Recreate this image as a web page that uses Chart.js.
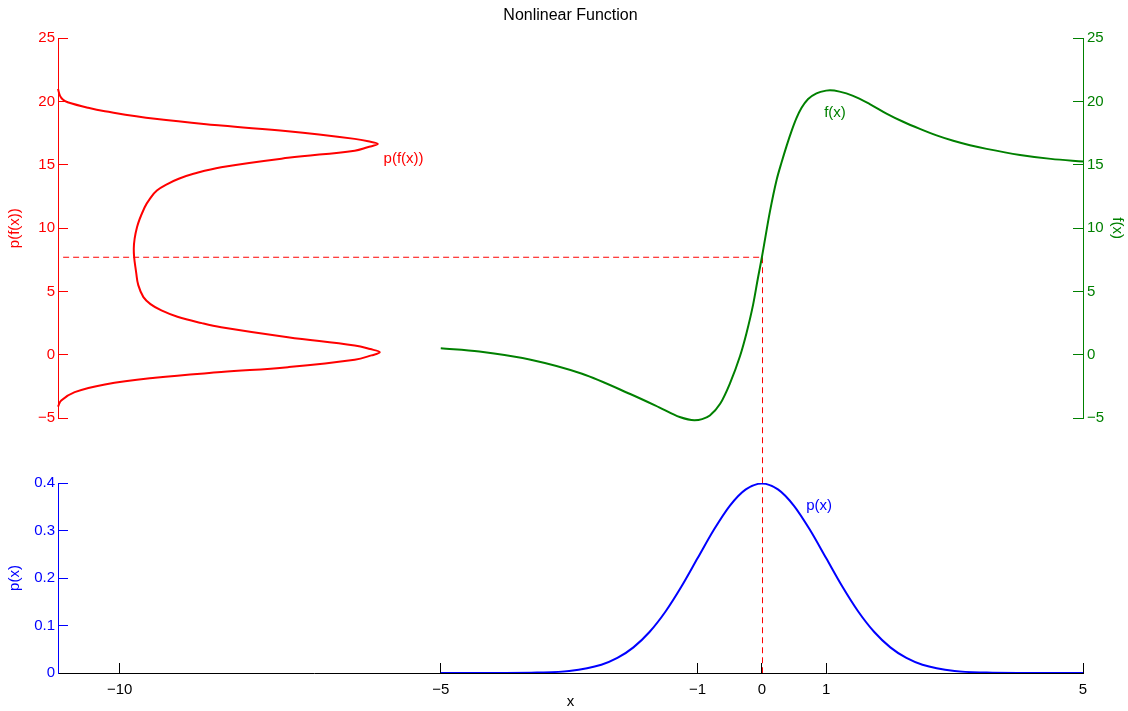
<!DOCTYPE html>
<html>
<head>
<meta charset="utf-8">
<title>Nonlinear Function</title>
<script src="https://cdn.jsdelivr.net/npm/chart.js@4.4.1/dist/chart.umd.min.js"></script>
<style>
  html, body { margin: 0; padding: 0; background: #fff; }
  #wrap { width: 1128px; height: 711px; }
</style>
</head>
<body>
<div id="wrap"><canvas id="chart" width="1128" height="711"></canvas></div>
<script>
// f(x)
const fX = [-5, -4.4, -3.6, -2.8, -2.05, -1.6, -1.28, -1.05, -0.93, -0.81, -0.65, -0.5, -0.34, -0.24, -0.135, -0.06,
  0, 0.125, 0.229, 0.307, 0.385, 0.463, 0.54, 0.618, 0.72, 0.85, 1.0, 1.06, 1.21, 1.42, 1.68, 1.94, 2.2, 2.46,
  2.72, 2.98, 3.24, 3.5, 4.02, 4.5, 5];
const fY = [0.52, 0.26, -0.39, -1.5, -3.1, -4.15, -4.92, -5.17, -5.08, -4.79, -3.87, -2.29, -0.1, 1.7, 4.0, 6.1,
  7.7, 11.3, 13.8, 15.2, 16.5, 17.68, 18.7, 19.5, 20.2, 20.65, 20.86, 20.88, 20.78, 20.45, 19.8, 19.05, 18.4, 17.84,
  17.33, 16.9, 16.55, 16.26, 15.78, 15.47, 15.26];

// p(f(x)) drawn sideways against the left edge: level of f and horizontal position
const pfLevel = [21.0, 20.47, 20.13, 19.94, 19.5, 19.23, 18.63, 18.1, 17.65, 17.05, 16.86, 16.65, 16.39, 16.12,
  15.55, 14.81, 14.29, 13.9, 13.5, 12.97, 12.31, 11.65, 10.07, 8.37, 6.39, 5.5, 4.55, 4.0, 3.5, 3.0, 2.5, 2.18,
  1.39, 0.73, 0.45, 0.2, -0.05, -0.39, -0.98, -1.37, -1.82, -2.34, -2.95, -3.61, -4.1];
const pfPos = [-10.96, -10.93, -10.88, -10.81, -10.49, -10.23, -9.45, -8.42, -7.38, -6.34, -6.13, -5.98, -6.14, -6.34,
  -7.38, -8.42, -8.85, -9.08, -9.25, -9.42, -9.53, -9.61, -9.73, -9.78, -9.74, -9.71, -9.63, -9.52, -9.35, -9.1, -8.72, -8.42,
  -7.38, -6.34, -6.1, -5.95, -6.08, -6.34, -7.38, -8.42, -9.45, -10.23, -10.7, -10.91, -10.96];

// p(x)
const pX = [-5, -4, -3.5, -3, -2.5, -2.25, -2, -1.75, -1.5, -1.25, -1, -0.75, -0.5, -0.25, 0,
  0.25, 0.5, 0.75, 1, 1.25, 1.5, 1.75, 2, 2.25, 2.5, 3, 3.5, 4, 5];
const pY = [0, 0.0001, 0.0009, 0.0044, 0.0175, 0.0317, 0.054, 0.0863, 0.1295, 0.1826, 0.242, 0.3011, 0.3521, 0.3867, 0.3989,
  0.3867, 0.3521, 0.3011, 0.242, 0.1826, 0.1295, 0.0863, 0.054, 0.0317, 0.0175, 0.0044, 0.0009, 0.0001, 0];

// dashed guide: from the left edge at f(0), to x = 0, then down to p = 0
const guideX = [-10.88, 0];
const guideLevel = 7.7;

const xTicks = [-10, -5, -1, 0, 1, 5];
const fTicks = [-5, 0, 5, 10, 15, 20, 25];
const pTicks = [0, 0.1, 0.2, 0.3, 0.4];
const xRange = [-10.96, 5];

// in-plot labels: [text, x, y]
const labelF = ["f(x)", 0.97, 19.1];
const labelPF = ["p(f(x))", -5.89, 15.45];
const labelP = ["p(x)", 0.69, 0.352];

const FONT = "'Liberation Sans', Arial, Helvetica, sans-serif";
const RED = "#ff0000";
const GREEN = "#008000";
const BLUE = "#0000ff";

Chart.defaults.font.family = FONT;
Chart.defaults.font.size = 15;

const minus = (v) => String(v).replace("-", "\u2212");
const fixTicks = (values) => (scale) => {
  scale.ticks = values.map((value) => ({ value }));
};

function pairs(xs, ys) {
  return xs.map((x, i) => ({ x, y: ys[i] }));
}

function leftAxis(color, title, ticks, extra) {
  return Object.assign({
    type: "linear",
    position: "left",
    stack: "left",
    afterBuildTicks: fixTicks(ticks),
    afterFit: (s) => { s.width = 58; s.paddingTop = 0; s.paddingBottom = 0; },
    grid: { drawOnChartArea: false, tickLength: -10, color },
    border: { color, width: 1 },
    ticks: { color, padding: 13, callback: minus },
    title: { display: true, text: title, color, font: { size: 15 }, padding: { top: 6, bottom: 0 } },
  }, extra);
}

const overlay = {
  id: "overlay",
  beforeDatasetsDraw(chart) {
    const { ctx, scales } = chart;
    const { x, yF, yP } = scales;
    const gx = Math.round(x.getPixelForValue(guideX[1])) + 0.5;
    const gy = yF.getPixelForValue(guideLevel);
    ctx.save();
    ctx.strokeStyle = RED;
    ctx.lineWidth = 1;
    ctx.setLineDash([6, 4]);
    ctx.beginPath();
    ctx.moveTo(x.getPixelForValue(guideX[0]), gy);
    ctx.lineTo(gx, gy);
    ctx.stroke();
    ctx.beginPath();
    ctx.moveTo(gx, gy);
    ctx.lineTo(gx, yP.getPixelForValue(0));
    ctx.stroke();
    ctx.restore();
  },
  afterDatasetsDraw(chart) {
    const { ctx, scales } = chart;
    const { x, yF, yG, yP } = scales;
    ctx.save();
    ctx.font = `15px ${FONT}`;
    ctx.textAlign = "left";
    ctx.textBaseline = "middle";
    ctx.fillStyle = GREEN;
    ctx.fillText(labelF[0], x.getPixelForValue(labelF[1]), yG.getPixelForValue(labelF[2]));
    ctx.fillStyle = RED;
    ctx.fillText(labelPF[0], x.getPixelForValue(labelPF[1]), yF.getPixelForValue(labelPF[2]));
    ctx.fillStyle = BLUE;
    ctx.fillText(labelP[0], x.getPixelForValue(labelP[1]), yP.getPixelForValue(labelP[2]));
    ctx.restore();
  },
};

new Chart(document.getElementById("chart"), {
  type: "scatter",
  data: {
    datasets: [
      {
        label: "p(f(x))",
        data: pairs(pfPos, pfLevel),
        yAxisID: "yF",
        showLine: true,
        borderColor: RED,
        borderWidth: 2,
        pointRadius: 0,
        tension: 0.4,
        clip: false,
      },
      {
        label: "f(x)",
        data: pairs(fX, fY),
        yAxisID: "yG",
        showLine: true,
        borderColor: GREEN,
        borderWidth: 2,
        pointRadius: 0,
        cubicInterpolationMode: "monotone",
        clip: false,
      },
      {
        label: "p(x)",
        data: pairs(pX, pY),
        yAxisID: "yP",
        showLine: true,
        borderColor: BLUE,
        borderWidth: 2,
        pointRadius: 0,
        cubicInterpolationMode: "monotone",
      },
    ],
  },
  options: {
    responsive: false,
    devicePixelRatio: 1,
    animation: false,
    layout: { padding: 0 },
    plugins: {
      legend: { display: false },
      tooltip: { enabled: false },
      title: {
        display: true,
        text: "Nonlinear Function",
        color: "#000",
        fullSize: false,
        font: { size: 16, weight: "normal" },
        padding: { top: 6, bottom: 13 },
      },
    },
    scales: {
      x: {
        type: "linear",
        position: "bottom",
        min: xRange[0],
        max: xRange[1],
        afterBuildTicks: fixTicks(xTicks),
        afterFit: (s) => { s.height = 38; s.paddingLeft = 0; s.paddingRight = 0; },
        grid: { drawOnChartArea: false, tickLength: -10, color: "#000" },
        border: { color: "#000", width: 1 },
        ticks: { color: "#000", padding: 18, maxRotation: 0, autoSkip: false, callback: minus },
        title: { display: true, text: "x", color: "#000", font: { size: 15 }, padding: 0 },
      },
      yF: leftAxis(RED, "p(f(x))", fTicks, { min: -5, max: 25, weight: 3, stackWeight: 380 }),
      yGap: { type: "linear", position: "left", stack: "left", weight: 2, stackWeight: 65, display: false },
      yP: leftAxis(BLUE, "p(x)", pTicks, { min: 0, max: 0.4, weight: 1, stackWeight: 190 }),
      yG: {
        type: "linear",
        position: "right",
        stack: "right",
        weight: 1,
        stackWeight: 380,
        min: -5,
        max: 25,
        afterBuildTicks: fixTicks(fTicks),
        afterFit: (s) => { s.width = 45; s.paddingTop = 0; s.paddingBottom = 0; },
        grid: { drawOnChartArea: false, tickLength: -10, color: GREEN },
        border: { color: GREEN, width: 1 },
        ticks: { color: GREEN, padding: 14, callback: minus },
        title: { display: true, text: "f(x)", color: GREEN, font: { size: 15 }, padding: { top: 2, bottom: 0 } },
      },
      yGapR: { type: "linear", position: "right", stack: "right", weight: 2, stackWeight: 255, display: false },
    },
  },
  plugins: [overlay],
});
</script>
</body>
</html>
